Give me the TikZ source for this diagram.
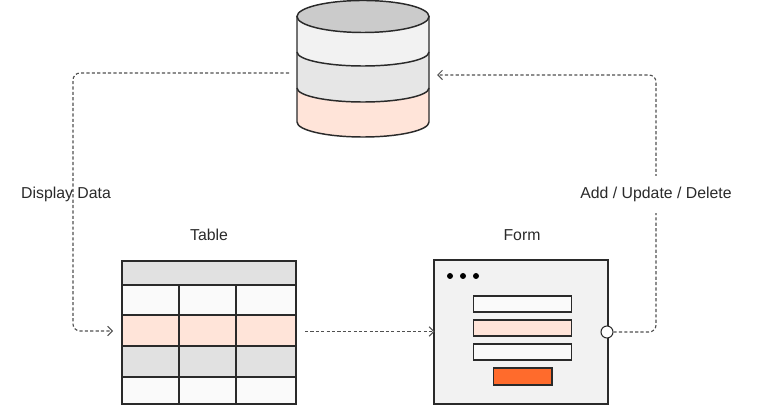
\documentclass[tikz,border=0pt]{standalone}
\usepackage{fontspec}
\setmainfont{Liberation Sans}
\usetikzlibrary{arrows.meta}
\definecolor{peach}{HTML}{FFE4D9}
\definecolor{dbtop}{HTML}{CBCBCB}
\definecolor{lightgray}{HTML}{F2F2F2}
\definecolor{midgray}{HTML}{E6E6E6}
\definecolor{headgray}{HTML}{E1E1E1}
\definecolor{cellwhite}{HTML}{FAFAFA}
\definecolor{btnorange}{HTML}{FF6B2C}
\definecolor{inkdark}{HTML}{2A2A2A}
\definecolor{flowgray}{HTML}{505050}
\tikzset{
  shape line/.style={draw=inkdark,line width=1.25pt},
  flow/.style={draw=flowgray,line width=0.95pt,dash pattern=on 2.7pt off 1.9pt,rounded corners=6pt},
  tip/.style={-{Straight Barb[length=4pt,width=8pt,line width=0.9pt]}},
  label text/.style={font=\fontsize{13.5}{16}\selectfont,text=inkdark,inner sep=1pt,anchor=base},
}
\begin{document}
\begin{tikzpicture}[x=0.03cm,y=-0.03cm]
  \useasboundingbox (0,0) rectangle (769,405);
  % database
  \fill[peach] (297,88) -- (297,122) arc[start angle=180,end angle=0,x radius=66,y radius=15] -- (429,88) -- cycle;
  \fill[midgray] (297,52) -- (297,88) arc[start angle=180,end angle=0,x radius=66,y radius=14] -- (429,52) -- cycle;
  \fill[lightgray] (297,16) -- (297,52) arc[start angle=180,end angle=0,x radius=66,y radius=14] -- (429,16) -- cycle;
  \draw[shape line,fill=dbtop] (363,16.5) ellipse[x radius=66,y radius=16];
  \draw[shape line] (297,16) -- (297,122) arc[start angle=180,end angle=0,x radius=66,y radius=15] -- (429,16);
  \draw[shape line] (297,52) arc[start angle=180,end angle=0,x radius=66,y radius=14];
  \draw[shape line] (297,88) arc[start angle=180,end angle=0,x radius=66,y radius=14];
  \coordinate (dbleft) at (289,73);
  \coordinate (dbright) at (437,75);
  % table
  \fill[headgray] (122,261) rectangle (296,285);
  \fill[cellwhite] (122,285) rectangle (296,315);
  \fill[peach] (122,315) rectangle (296,346);
  \fill[headgray] (122,346) rectangle (296,377);
  \fill[cellwhite] (122,377) rectangle (296,404);
  \draw[shape line] (122,261) rectangle (296,404);
  \foreach \y in {285,315,346,377} \draw[shape line] (122,\y) -- (296,\y);
  \foreach \x in {179,236} \draw[shape line] (\x,285) -- (\x,404);
  \coordinate (tableleft) at (113,331);
  \coordinate (tableright) at (305,331.5);
  % form
  \draw[shape line,fill=lightgray] (434,260) rectangle (608,404);
  \foreach \x in {450,463,476} \fill[black] (\x,276) circle[radius=3];
  \draw[shape line,fill=cellwhite] (473.5,296) rectangle (571.5,312);
  \draw[shape line,fill=peach] (473.5,320) rectangle (571.5,336);
  \draw[shape line,fill=cellwhite] (473.5,344) rectangle (571.5,360);
  \draw[shape line,fill=btnorange] (493.5,368) rectangle (552,385);
  \coordinate (formleft) at (434.5,331.5);
  \node[circle,draw=inkdark,fill=white,line width=0.9pt,minimum size=0.36cm,inner sep=0pt] (port) at (607,332) {};
  % connectors
  \draw[flow,tip] (dbleft) -- (73,73) -- (73,331) -- (tableleft);
  \draw[flow,tip] (tableright) -- (formleft);
  \draw[flow,tip] (port) -- (656,332) -- (656,75) -- (dbright);
  % labels
  \node[label text] (tablelabel) at (209,240.5) {Table};
  \node[label text] (formlabel) at (522,240.5) {Form};
  \node[label text] (displaylabel) at (66,198.5) {Display Data};
  \node[label text,fill=white,inner ysep=0.34cm] (changelabel) at (656,198.5) {Add / Update / Delete};
\end{tikzpicture}
\end{document}
